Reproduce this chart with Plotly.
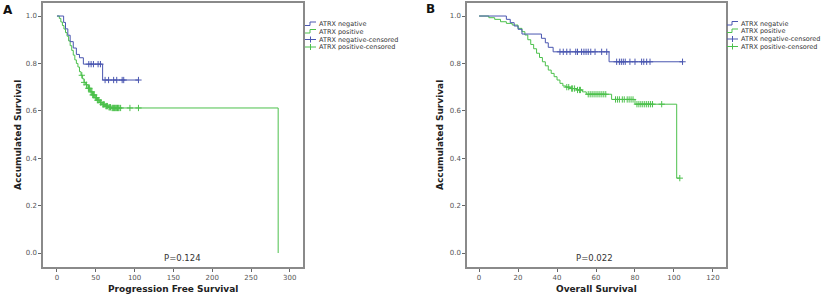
import bisect
import plotly.graph_objects as go

W, H = 825, 299

# ---------------- Panel A: Progression Free Survival ----------------
pfs_neg_t = [0, 8.6, 11, 14, 17, 21, 25, 29, 34, 58.8, 105]
pfs_neg_s = [1.0, 0.973, 0.946, 0.919, 0.892, 0.865, 0.838, 0.824, 0.797, 0.73, 0.73]
pfs_neg_cens_t = [41, 44, 47, 53, 56, 62, 66.5, 73, 77, 84, 86, 105]

pfs_pos_t = [0, 3, 5, 7, 9, 11, 13, 15, 17, 19, 21, 23, 25, 27, 29, 31, 33, 35, 37, 40,
             43, 46, 49, 52, 55, 58, 62, 66, 70, 285]
pfs_pos_s = [1.0, 0.99, 0.975, 0.96, 0.945, 0.93, 0.915, 0.895, 0.875, 0.855, 0.835, 0.815,
             0.80, 0.785, 0.765, 0.75, 0.735, 0.72, 0.71, 0.695, 0.68, 0.667, 0.655, 0.645,
             0.635, 0.627, 0.62, 0.615, 0.612, 0.0]
pfs_pos_cens_t = [32, 35, 38, 40.5, 41, 42, 44, 45, 46, 47, 48, 50, 51, 52, 53, 54, 56, 57,
                  59, 60, 61, 63, 64, 65, 67, 68, 69, 71, 72, 73, 74, 75, 76, 77, 78, 79, 80,
                  82, 94, 105]

# ---------------- Panel B: Overall Survival ----------------
os_neg_t = [0, 14, 16, 18, 20, 22, 32, 34, 35.5, 38, 66.7, 104.4]
os_neg_s = [1.0, 0.986, 0.972, 0.958, 0.944, 0.924, 0.906, 0.887, 0.868, 0.849, 0.807, 0.807]
os_neg_cens_t = [41.5, 43.2, 45, 46.7, 49.6, 50.5, 52.6, 53.8, 54.9, 56, 57.3, 59.5, 62.9,
                 65.5, 70.6, 72, 73, 74, 75, 77.4, 80, 83.4, 84.5, 86, 87.7, 104.4]

os_pos_t = [0, 5, 8, 11, 14, 17, 20, 22, 23.5, 25, 26.5, 28, 29.5, 31, 32.5, 34, 35.5, 37,
            38.5, 40, 41.5, 43, 44.5, 47, 50, 53, 55, 68, 80, 101.4, 103]
os_pos_s = [1.0, 0.993, 0.986, 0.976, 0.969, 0.962, 0.948, 0.934, 0.92, 0.90, 0.88, 0.862,
            0.843, 0.825, 0.807, 0.79, 0.772, 0.758, 0.744, 0.73, 0.716, 0.705, 0.70, 0.694,
            0.688, 0.68, 0.67, 0.648, 0.628, 0.316, 0.316]
os_pos_cens_t = [45, 46, 47.5, 48, 49, 50.5, 51.5, 52, 56, 57, 58, 59, 60, 61, 62, 63, 64, 65,
                 70, 71, 72, 73.5, 74.5, 76, 77, 78, 79, 81, 82, 83, 84, 85, 86, 87, 88, 89,
                 93.7, 103]

legend_a = ["ATRX negative", "ATRX positive", "ATRX negative-censored", "ATRX positive-censored"]
legend_b = ["ATRX negatvie", "ATRX positive", "ATRX negative-censored", "ATRX positive-censored"]

pfs_ticks = [0, 50, 100, 150, 200, 250, 300]
os_ticks = [0, 20, 40, 60, 80, 100, 120]
y_ticks = [0.0, 0.2, 0.4, 0.6, 0.8, 1.0]

BLUE = "#4a56b0"
GREEN = "#4cc04c"
FONT = "DejaVu Sans"


def surv_at(ts, ss, t):
    i = bisect.bisect_right(ts, t) - 1
    return ss[max(i, 0)]


fig = go.Figure()


def add_panel(xa, ya, neg_t, neg_s, neg_c, pos_t, pos_s, pos_c):
    fig.add_trace(go.Scatter(x=pos_t, y=pos_s, mode="lines", line=dict(color=GREEN, width=1, shape="hv"),
                             xaxis=xa, yaxis=ya, showlegend=False, hoverinfo="skip"))
    fig.add_trace(go.Scatter(x=neg_t, y=neg_s, mode="lines", line=dict(color=BLUE, width=1, shape="hv"),
                             xaxis=xa, yaxis=ya, showlegend=False, hoverinfo="skip"))
    fig.add_trace(go.Scatter(x=pos_c, y=[surv_at(pos_t, pos_s, t) for t in pos_c], mode="markers",
                             marker=dict(symbol="cross-thin", size=4.5, line=dict(color=GREEN, width=1)),
                             xaxis=xa, yaxis=ya, showlegend=False, hoverinfo="skip"))
    fig.add_trace(go.Scatter(x=neg_c, y=[surv_at(neg_t, neg_s, t) for t in neg_c], mode="markers",
                             marker=dict(symbol="cross-thin", size=4.5, line=dict(color=BLUE, width=1)),
                             xaxis=xa, yaxis=ya, showlegend=False, hoverinfo="skip"))


add_panel("x", "y", pfs_neg_t, pfs_neg_s, pfs_neg_cens_t, pfs_pos_t, pfs_pos_s, pfs_pos_cens_t)
add_panel("x2", "y2", os_neg_t, os_neg_s, os_neg_cens_t, os_pos_t, os_pos_s, os_pos_cens_t)


def px(x):
    return x / W


def py(y):
    return 1 - y / H


axis_common = dict(showgrid=False, zeroline=False, showline=True, mirror=True, linecolor="#8a8a8a",
                   linewidth=1.5, ticks="outside", ticklen=3, tickcolor="#666", tickwidth=1,
                   tickfont=dict(family=FONT, size=7, color="#555"))

fig.update_layout(
    width=W, height=H, margin=dict(l=0, r=0, t=0, b=0),
    paper_bgcolor="white", plot_bgcolor="white", showlegend=False,
    xaxis=dict(domain=[px(43), px(303)], range=[-18, 317], tickvals=pfs_ticks, anchor="y", **axis_common),
    yaxis=dict(domain=[py(267), py(3)], range=[-0.059, 1.055], tickvals=y_ticks, tickformat=".1f",
               anchor="x", **axis_common),
    xaxis2=dict(domain=[px(467), px(726)], range=[-6.2, 126.7], tickvals=os_ticks, anchor="y2", **axis_common),
    yaxis2=dict(domain=[py(267), py(3)], range=[-0.059, 1.055], tickvals=y_ticks, tickformat=".1f",
                anchor="x2", **axis_common),
)

ann = []
shapes = []


def text(x, y, s, size, bold=False, angle=0, color="#222", xanchor="center"):
    ann.append(dict(x=px(x), y=py(y), xref="paper", yref="paper", text=("<b>%s</b>" % s) if bold else s,
                    showarrow=False, textangle=angle, xanchor=xanchor, yanchor="middle",
                    font=dict(family=FONT, size=size, color=color)))


# panel labels
text(8, 10, "A", 12, bold=True, color="#111")
text(430, 9, "B", 12, bold=True, color="#111")
# axis titles
text(18, 135, "Accumulated Survival", 9, bold=True, angle=-90)
text(440, 135, "Accumulated Survival", 9, bold=True, angle=-90)
text(173, 289, "Progression Free Survival", 9, bold=True)
text(596, 289, "Overall Survival", 9, bold=True)
# p values
text(182, 258, "P=0.124", 8.5, color="#333")
text(594, 258, "P=0.022", 8.5, color="#333")


def line(x0, y0, x1, y1, color):
    shapes.append(dict(type="line", xref="paper", yref="paper", x0=px(x0), y0=py(y0), x1=px(x1), y1=py(y1),
                       line=dict(color=color, width=1)))


def legend(x0, rows, labels):
    colors = [BLUE, GREEN, BLUE, GREEN]
    for i, (yy, lab) in enumerate(zip(rows, labels)):
        c = colors[i]
        if i < 2:
            line(x0, yy + 1.5, x0 + 5, yy + 1.5, c)
            line(x0 + 5, yy + 1.5, x0 + 5, yy - 2, c)
            line(x0 + 5, yy - 2, x0 + 11, yy - 2, c)
        else:
            line(x0, yy, x0 + 11, yy, c)
            line(x0 + 5.5, yy - 3, x0 + 5.5, yy + 3, c)
        text(x0 + 12, yy, lab, 6.5, color="#333", xanchor="left")


legend(305, [24, 31.5, 39.5, 47], legend_a)
legend(727, [23.5, 31, 39, 46.5], legend_b)

fig.update_layout(annotations=ann, shapes=shapes)
fig.write_html("out.html", config={"displayModeBar": False},
               post_script="document.body.style.margin='0';document.body.style.overflow='hidden';")
